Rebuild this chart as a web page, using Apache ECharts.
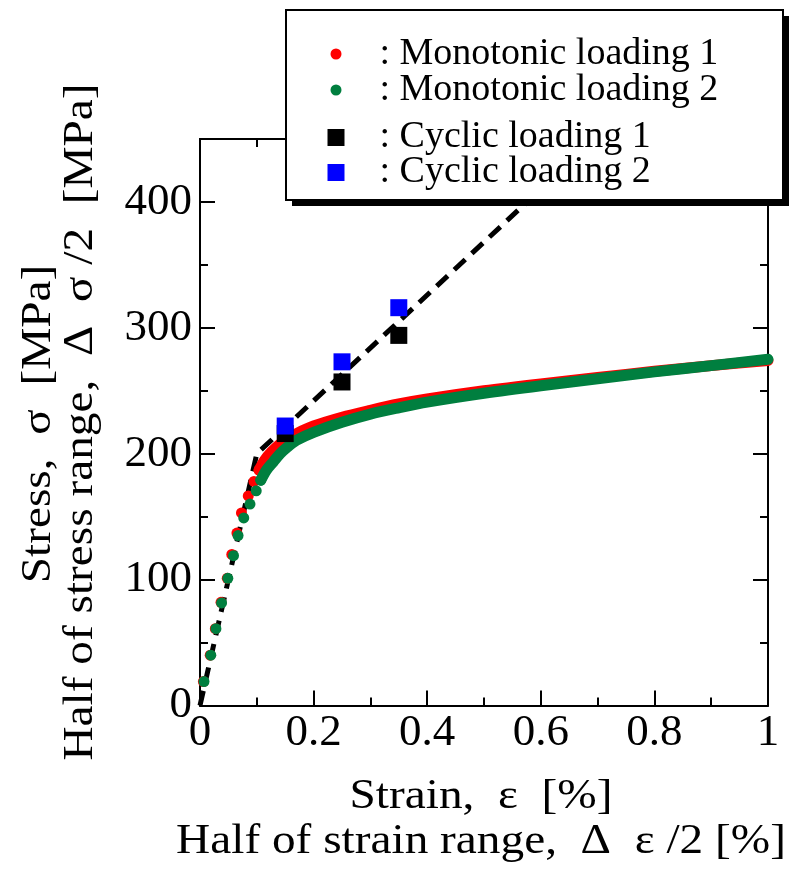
<!DOCTYPE html>
<html>
<head>
<meta charset="utf-8">
<script src="https://cdn.jsdelivr.net/npm/echarts@6/dist/echarts.min.js"></script>
<style>html,body{margin:0;padding:0;background:#fff;}#c{width:795px;height:873px;}</style>
</head>
<body>
<div id="c"></div>
<script>
// ---- data ----
const seriesNames = [': Monotonic loading 1', ': Monotonic loading 2', ': Cyclic loading 1', ': Cyclic loading 2'];

// Monotonic loading 1 (red): separate dots in elastic part
const mono1Strain = [0.006, 0.018, 0.027, 0.037, 0.048, 0.056, 0.065, 0.073, 0.085, 0.095, 0.104];
const mono1Stress = [19, 40, 61, 82, 101, 120, 137, 153, 166.5, 178, 187];
// dense (overlapping) dots of the plastic part
const mono1DenseStrain = [0.104, 0.114, 0.126, 0.139, 0.153, 0.17, 0.2, 0.25, 0.3, 0.35, 0.4, 0.5, 0.6, 0.7, 0.8, 0.9, 1.0];
const mono1DenseStress = [187, 195, 201.5, 207, 211.5, 216, 222, 229, 234.5, 239.5, 243.5, 250, 255.5, 260.5, 265.5, 270, 274];

// Monotonic loading 2 (green)
const mono2Strain = [0.007, 0.019, 0.028, 0.038, 0.049, 0.059, 0.067, 0.077, 0.088, 0.099, 0.107];
const mono2Stress = [19, 40, 61, 81.5, 101, 119, 135, 149, 160, 170.5, 179];
const mono2DenseStrain = [0.107, 0.117, 0.129, 0.141, 0.153, 0.17, 0.2, 0.25, 0.3, 0.35, 0.4, 0.5, 0.6, 0.7, 0.8, 0.9, 1.0];
const mono2DenseStress = [179, 187, 193.5, 200, 205, 210.7, 217, 225, 231.5, 236.5, 241, 248, 254, 259.5, 265, 270, 275];

// Cyclic loading
const cyc1Strain = [0.15, 0.25, 0.35];
const cyc1Stress = [216, 257, 294];
const cyc2Strain = [0.15, 0.25, 0.35];
const cyc2Stress = [222, 273, 316];

// dashed guide line (bilinear)
const guideStrain = [0, 0.1, 0.69];
const guideStress = [0, 200, 448];

// axis settings
const xMin = 0, xMax = 1, xStep = 0.2;
const yMin = 0, yMax = 450, yStep = 100, yMinorStep = 50;

const zip = (a, b) => a.map((v, i) => [v, b[i]]);

const FONT = 'Liberation Serif';
const axisLineStyle = { color: '#000', width: 2 };

function xAxisDef(pos, showLabel) {
  return {
    type: 'value', position: pos, min: xMin, max: xMax, interval: xStep,
    axisLine: { show: true, onZero: false, lineStyle: axisLineStyle },
    axisTick: { show: true, inside: true, length: 15, lineStyle: { color: '#000', width: 2 } },
    minorTick: { show: true, splitNumber: 2, length: 8, lineStyle: { color: '#000', width: 2 } },
    axisLabel: { show: showLabel, margin: 5, color: '#000', fontFamily: FONT, fontSize: 45 },
    splitLine: { show: false }, minorSplitLine: { show: false }
  };
}
function yAxisDef(pos, step, len, showLabel) {
  return {
    type: 'value', position: pos, min: yMin, max: yMax, interval: step,
    axisLine: { show: true, onZero: false, lineStyle: axisLineStyle },
    axisTick: { show: true, inside: true, length: len, lineStyle: { color: '#000', width: 2 } },
    axisLabel: { show: showLabel, margin: 8, showMaxLabel: false, color: '#000', fontFamily: FONT, fontSize: 45 },
    splitLine: { show: false }
  };
}
function legendDef(name, icon, size, left, top, pad) {
  return {
    data: [name], orient: 'vertical', left: left, top: top, padding: 0, itemGap: 0,
    icon: icon, itemWidth: size, itemHeight: size, z: 30, selectedMode: false,
    textStyle: { fontFamily: FONT, fontSize: 38, color: '#000', lineHeight: 38, padding: [0, 0, 0, pad] }
  };
}

const titleStyle = { fontFamily: FONT, fontSize: 43, fill: '#000', textAlign: 'center', textVerticalAlign: 'middle' };

const chart = echarts.init(document.getElementById('c'), null, { renderer: 'canvas' });
chart.setOption({
  backgroundColor: '#fff',
  animation: false,
  grid: { left: 200, right: 27, top: 139, bottom: 167.5, containLabel: false },
  xAxis: [xAxisDef('bottom', true), xAxisDef('top', false)],
  yAxis: [
    yAxisDef('left', yStep, 15, true),
    yAxisDef('left', yMinorStep, 8, false),
    yAxisDef('right', yStep, 15, false),
    yAxisDef('right', yMinorStep, 8, false)
  ],
  legend: [
    legendDef(seriesNames[0], 'circle', 11, 330.5, 35, 33),
    legendDef(seriesNames[1], 'circle', 11, 330.5, 71, 33),
    legendDef(seriesNames[2], 'rect', 17, 327.5, 118.5, 30),
    legendDef(seriesNames[3], 'rect', 17, 327.5, 153.5, 30)
  ],
  graphic: [
    { type: 'rect', z: 20, shape: { x: 292, y: 16, width: 497, height: 190 }, style: { fill: '#000' } },
    { type: 'rect', z: 21, shape: { x: 286, y: 10, width: 497, height: 190 }, style: { fill: '#fff', stroke: '#000', lineWidth: 2 } },
    { type: 'text', z: 10, x: 481, y: 797, scaleX: 1.1, style: Object.assign({ text: 'Strain,  ε  [%]' }, titleStyle) },
    { type: 'text', z: 10, x: 481, y: 842, scaleX: 1.1, style: Object.assign({ text: 'Half of strain range,  Δ  ε /2 [%]' }, titleStyle) },
    { type: 'text', z: 10, x: 39, y: 424, rotation: Math.PI / 2, scaleX: 1.1, style: Object.assign({ text: 'Stress,  σ  [MPa]' }, titleStyle) },
    { type: 'text', z: 10, x: 81, y: 422, rotation: Math.PI / 2, scaleX: 1.1, style: Object.assign({ text: 'Half of stress range,  Δ  σ /2  [MPa]' }, titleStyle) }
  ],
  series: [
    {
      name: 'guide', type: 'line', data: zip(guideStrain, guideStress), symbol: 'none', z: 2,
      lineStyle: { color: '#000', width: 5, type: [15, 9] }, silent: true
    },
    {
      name: seriesNames[0], type: 'scatter', data: zip(mono1Strain, mono1Stress), symbol: 'circle', symbolSize: 11, z: 3,
      itemStyle: { color: '#ff0000', opacity: 1 }
    },
    {
      name: seriesNames[0], type: 'line', data: zip(mono1DenseStrain, mono1DenseStress), symbol: 'none', smooth: 0.3, z: 3,
      lineStyle: { color: '#ff0000', width: 11, cap: 'round', join: 'round' }, itemStyle: { color: '#ff0000' }
    },
    {
      name: seriesNames[1], type: 'scatter', data: zip(mono2Strain, mono2Stress), symbol: 'circle', symbolSize: 11, z: 4,
      itemStyle: { color: '#007f3f', opacity: 1 }
    },
    {
      name: seriesNames[1], type: 'line', data: zip(mono2DenseStrain, mono2DenseStress), symbol: 'none', smooth: 0.3, z: 4,
      lineStyle: { color: '#007f3f', width: 11, cap: 'round', join: 'round' }, itemStyle: { color: '#007f3f' }
    },
    {
      name: seriesNames[2], type: 'scatter', data: zip(cyc1Strain, cyc1Stress), symbol: 'rect', symbolSize: 17, z: 5,
      itemStyle: { color: '#000000', opacity: 1 }
    },
    {
      name: seriesNames[3], type: 'scatter', data: zip(cyc2Strain, cyc2Stress), symbol: 'rect', symbolSize: 17, z: 6,
      itemStyle: { color: '#0000ff', opacity: 1 }
    }
  ]
});
</script>
</body>
</html>
